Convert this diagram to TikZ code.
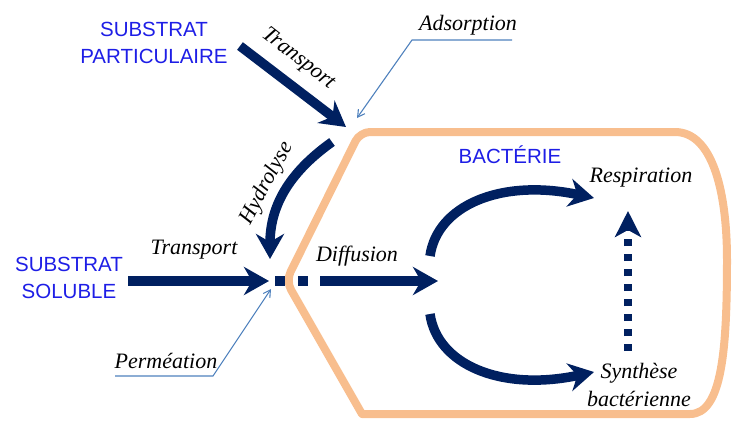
\documentclass[tikz,border=0pt]{standalone}
\usepackage{fontspec}
\setmainfont{Liberation Serif}
\newfontfamily\arialf{Liberation Sans}
\usetikzlibrary{arrows.meta}
\definecolor{navy}{RGB}{0,32,96}
\definecolor{bluetxt}{RGB}{30,30,230}
\definecolor{membr}{RGB}{248,190,142}
\definecolor{leader}{RGB}{79,129,189}
\begin{document}
\begin{tikzpicture}[x=1pt,y=-1pt,
  bigarrow/.style={draw=navy,line width=9.5pt,-{Stealth[length=25pt,width=28pt,inset=8pt]}},
  dotarrow/.style={draw=navy,line width=8pt,dash pattern=on 7pt off 8pt,-{Stealth[length=26pt,width=26pt,inset=7pt]}},
  lead/.style={draw=leader,line width=1.1pt},
  leadarrow/.style={lead,-{Straight Barb[length=7pt,width=8pt]}},
  bluelab/.style={text=bluetxt,font=\arialf\fontsize{20.5}{26.5}\selectfont,align=center,inner sep=0pt},
  itlab/.style={font=\itshape\fontsize{22}{28}\selectfont,align=center,inner sep=0pt},
  membrane/.style={draw=membr,line width=8pt,line join=round}]
\useasboundingbox (0,0) rectangle (732,421);
% membrane
\draw[membrane] [rounded corners=10pt] (362,414) -- (286,281) -- (360,132) -- (665,132) [sharp corners]
  .. controls (712,132) and (727,190) .. (727,260)
  .. controls (727,350) and (722,414) .. (690,414) -- cycle;
% text nodes
\node[bluelab] (sp) at (154,43) {SUBSTRAT\\PARTICULAIRE};
\node[bluelab] (ss) at (69,278) {SUBSTRAT\\SOLUBLE};
\node[bluelab] (bac) at (510,155) {BACTÉRIE};
\node[itlab,rotate=-38] (t1) at (298,59) {Transport};
\node[itlab] (t2) at (194,250) {Transport};
\node[itlab,rotate=62] (hy) at (267,183) {Hydrolyse};
\node[itlab] (dif) at (357,256) {Diffusion};
\node[itlab] (ads) at (468,25) {Adsorption};
\node[itlab] (per) at (166,361) {Perméation};
\node[itlab] (resp) at (641,178) {Respiration};
\node[itlab] (syn) at (639,385) {Synthèse\\bactérienne};
% coordinates
\coordinate (a1s) at (240,46);
\coordinate (a1e) at (346,127);
\coordinate (hs) at (332,142);
\coordinate (he) at (270,259);
\coordinate (ts) at (128,281);
\coordinate (te) at (269,281);
\coordinate (ds1) at (275,281);
\coordinate (ds2) at (308,281);
\coordinate (dfs) at (320,281);
\coordinate (dfe) at (438,281);
\coordinate (us) at (430,256);
\coordinate (ue) at (594,198);
\coordinate (ls) at (430,314);
\coordinate (le) at (594,372);
\coordinate (vs) at (628,351);
\coordinate (ve) at (628,211);
\coordinate (adl) at (512,40);
\coordinate (adk) at (412,40);
\coordinate (adt) at (357,118);
\coordinate (pel) at (115,376);
\coordinate (pek) at (213,376);
\coordinate (pet) at (271,289);
% arrows
\draw[bigarrow] (a1s) -- (a1e);
\draw[bigarrow] (hs) .. controls (287,174) and (270,208) .. (he);
\draw[bigarrow] (ts) -- (te);
\draw[draw=navy,line width=9.5pt,dash pattern=on 10pt off 13pt] (ds1) -- (ds2);
\draw[bigarrow] (dfs) -- (dfe);
\draw[bigarrow] (us) .. controls (437,206) and (500,178) .. (ue);
\draw[bigarrow] (ls) .. controls (437,364) and (500,392) .. (le);
\draw[dotarrow] (vs) -- (ve);
% leaders
\draw[leadarrow] (adl) -- (adk) -- (adt);
\draw[leadarrow] (pel) -- (pek) -- (pet);
\end{tikzpicture}
\end{document}
